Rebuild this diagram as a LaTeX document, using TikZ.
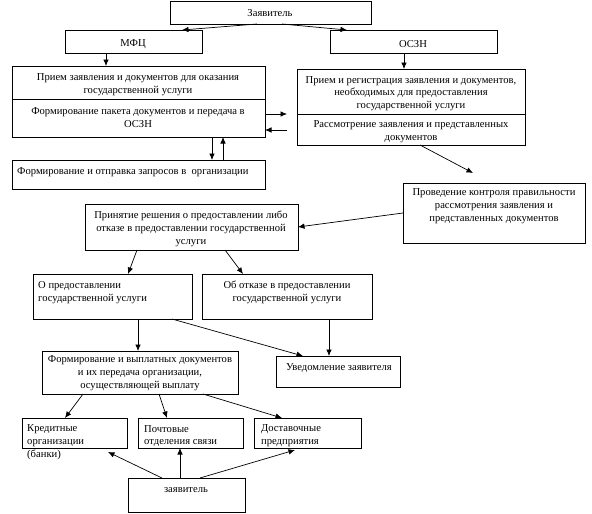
\documentclass[tikz,border=0pt]{standalone}
\usepackage{fontspec}
\setmainfont{Liberation Serif}
\usetikzlibrary{arrows.meta,calc}
\newcommand\mkbox[5]{\node[box,minimum width={(#4-#2)*1pt},minimum height={(#5-#3)*1pt}] (#1) at ({(#2+#4)/2},{(#3+#5)/2}) {};}
\begin{document}
\begin{tikzpicture}[x=1pt,y=-1pt,
 box/.style={draw,line width=0.8pt,inner sep=0pt,outer sep=0pt},
 txt/.style={font=\fontsize{10.6}{12.8}\selectfont,inner sep=0pt,align=center,yshift=-2pt},
 ltxt/.style={txt,align=left,anchor=west},
 arr/.style={line width=0.7pt,-{Latex[length=6.5pt,width=5.5pt]}}]
\useasboundingbox (0,0) rectangle (592,514);
\fill[white] (0,0) rectangle (592,514);
% boxes
\mkbox{zv}{170}{1}{371}{24}
\mkbox{mfc}{65}{30}{202}{53}
\mkbox{oszn}{330}{30}{497}{53}
\mkbox{l1}{12}{66}{265}{99}
\mkbox{l2}{12}{99}{265}{137}
\mkbox{r1}{297}{69}{525}{114}
\mkbox{r2}{297}{114}{525}{145}
\mkbox{zap}{12}{160}{265}{189}
\mkbox{prov}{403}{183}{585}{243}
\mkbox{prin}{85}{204}{298}{250}
\mkbox{opr}{33}{274}{192}{319}
\mkbox{otk}{202}{274}{372}{319}
\mkbox{uv}{276}{356}{400}{387}
\mkbox{fv}{42}{351}{238}{394}
\mkbox{kr}{22}{418}{127}{448}
\mkbox{po}{138}{418}{243}{448}
\mkbox{do}{254}{418}{361}{448}
\mkbox{zb}{128}{478}{245}{512}
% texts
\node[txt] (tzv) at (270,11) {Заявитель};
\node[txt] (tmfc) at (133,42) {МФЦ};
\node[txt] (toszn) at (413,42) {ОСЗН};
\node[txt] (tl1) at (138,83) {Прием заявления и документов для оказания\\государственной услуги};
\node[txt] (tl2) at (138,115.5) {Формирование пакета документов и передача в\\ОСЗН};
\node[txt] (tr1) at (411,91.5) {Прием и регистрация заявления и документов,\\необходимых для предоставления\\государственной услуги};
\node[txt] (tr2) at (411,130) {Рассмотрение заявления и представленных\\документов};
\node[ltxt] (tzap) at (17,170) {Формирование и отправка запросов в\ \ организации};
\node[txt] (tprov) at (494,204) {Проведение контроля правильности\\рассмотрения заявления и\\представленных документов};
\node[txt] (tprin) at (191,227) {Принятие решения о предоставлении либо\\отказе в предоставлении государственной\\услуги};
\node[ltxt] (topr) at (38,290.5) {О предоставлении\\государственной услуги};
\node[txt] (totk) at (287,290.5) {Об отказе в предоставлении\\государственной услуги};
\node[txt] (tuv) at (339,366) {Уведомление заявителя};
\node[txt] (tfv) at (140,371) {Формирование и выплатных документов\\и их передача организации,\\осуществляющей выплату};
\node[ltxt] (tkr) at (27,440) {Кредитные\\организации\\(банки)};
\node[ltxt] (tpo) at (144,434) {Почтовые\\отделения связи};
\node[ltxt] (tdo) at (261,434) {Доставочные\\предприятия};
\node[txt] (tzb) at (186,488) {заявитель};
% arrows
\draw[arr] ($(zv.south west)+(87,0)$) -- ($(mfc.north west)+(117,0)$);
\draw[arr] ($(zv.south west)+(112,0)$) -- ($(oszn.north west)+(17,0)$);
\draw[arr] ($(mfc.south west)+(41,0)$) -- ($(l1.north west)+(94,0)$);
\draw[arr] ($(oszn.south west)+(74,0)$) -- ($(r1.north west)+(107,0)$);
\coordinate (c5) at (287,114);
\coordinate (c6) at (287,130);
\draw[arr] (l2.east |- c5) -- (c5);
\draw[arr] (c6) -- (l2.east |- c6);
\draw[arr] ($(l2.south west)+(200,0)$) -- ($(zap.north west)+(200,0)$);
\draw[arr] ($(zap.north west)+(211,0)$) -- ($(l2.south west)+(211,0)$);
\draw[arr] ($(r2.south west)+(123,0)$) -- ($(prov.north west)+(70,-10)$);
\draw[arr] ($(prov.north west)+(0,30)$) -- ($(prin.north east)+(0,23)$);
\draw[arr] ($(prin.south west)+(52,0)$) -- ($(opr.north west)+(95,0)$);
\draw[arr] ($(prin.south west)+(140,0)$) -- ($(otk.north west)+(41,0)$);
\draw[arr] ($(opr.south west)+(105,0)$) -- ($(fv.north west)+(96,0)$);
\draw[arr] ($(opr.south west)+(139,0)$) -- ($(uv.north west)+(27,0)$);
\draw[arr] ($(otk.south west)+(127,0)$) -- ($(uv.north west)+(53,0)$);
\draw[arr] ($(fv.south west)+(41,0)$) -- ($(kr.north west)+(43,0)$);
\draw[arr] ($(fv.south west)+(117,0)$) -- ($(po.north west)+(29,0)$);
\draw[arr] ($(fv.south west)+(161,0)$) -- ($(do.north west)+(28,0)$);
\draw[arr] ($(zb.north west)+(34,0)$) -- ($(kr.south west)+(86,4)$);
\draw[arr] ($(zb.north west)+(52,0)$) -- ($(po.south west)+(42,0)$);
\draw[arr] ($(zb.north west)+(72,0)$) -- ($(do.south west)+(41,2)$);
\end{tikzpicture}
\end{document}
